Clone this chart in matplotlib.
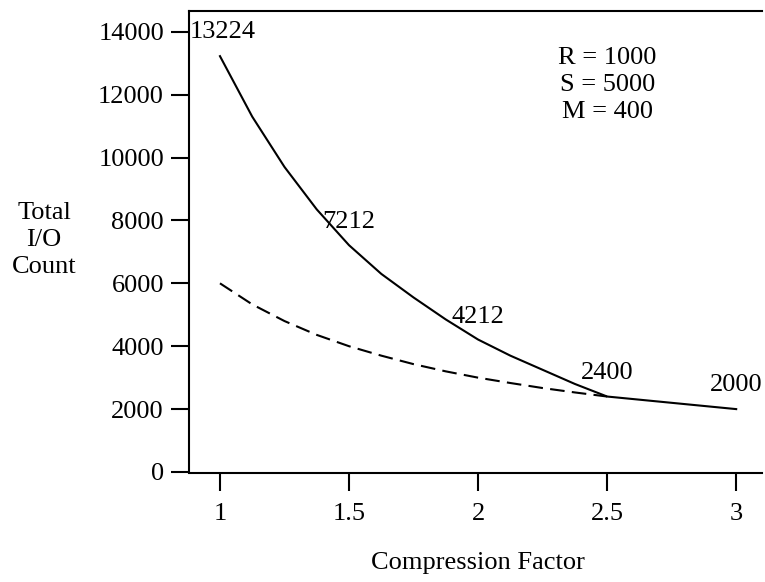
import matplotlib
matplotlib.use("Agg")
import matplotlib.pyplot as plt

# values
comp = [1.0, 1.125, 1.25, 1.375, 1.5, 1.625, 1.75, 1.875, 2.0,
        2.125, 2.25, 2.375, 2.5, 3.0]
io_solid = [13224, 11300, 9700, 8350, 7212, 6300, 5550, 4850, 4212,
            3700, 3250, 2800, 2400, 2000]
comp_dash = [1.0, 1.125, 1.25, 1.375, 1.5, 1.625, 1.75, 1.875, 2.0,
             2.125, 2.25, 2.375, 2.5]
io_dash = [6000, 5330, 4800, 4360, 4000, 3700, 3430, 3200, 3000,
           2830, 2670, 2530, 2400]
xticks = [1, 1.5, 2, 2.5, 3]
yticks = [0, 2000, 4000, 6000, 8000, 10000, 12000, 14000]
point_labels = ["13224", "7212", "4212", "2400", "2000"]
params_text = "R = 1000\nS = 5000\nM = 400"

plt.rcParams["font.family"] = ["Liberation Serif", "DejaVu Serif"]
FS = 19

fig = plt.figure(figsize=(7.65, 5.82), dpi=100)
ax = fig.add_axes([189 / 765, 1 - 472 / 582, (762 - 189) / 765, (472 - 11) / 582])

ax.plot(comp, io_solid, color="black", lw=1.5)
dash, = ax.plot(comp_dash, io_dash, color="black", lw=1.5)
dash.set_dashes([7, 3.5])

ax.set_xlim(0.88, 3.1)
ax.set_ylim(0, 14660)
ax.set_xticks(xticks)
ax.set_xticklabels(["1", "1.5", "2", "2.5", "3"])
ax.set_yticks(yticks)
ax.tick_params(axis="both", direction="out", length=13, width=1.5,
               labelsize=FS, colors="black")
ax.tick_params(axis="x", pad=8)
ax.tick_params(axis="y", pad=5)
ax.spines["right"].set_visible(False)
for s in ("left", "top", "bottom"):
    ax.spines[s].set_linewidth(1.5)
ax.spines["bottom"].set_position(("outward", 1))

# point annotations
ax.text(0.884, 14000, point_labels[0], fontsize=FS, ha="left", va="center")
ax.text(1.5, 7950, point_labels[1], fontsize=FS, ha="center", va="center")
ax.text(2.0, 4930, point_labels[2], fontsize=FS, ha="center", va="center")
ax.text(2.5, 3150, point_labels[3], fontsize=FS, ha="center", va="center")
ax.text(3.0, 2770, point_labels[4], fontsize=FS, ha="center", va="center")

ax.text(2.5, 12300, params_text, fontsize=FS, ha="center", va="center",
        multialignment="center", linespacing=1.3)

fig.text(44 / 765, 1 - 240 / 582, "Total\nI/O\nCount", fontsize=FS,
         ha="center", va="center", multialignment="center", linespacing=1.3)
fig.text(478 / 765, 1 - 563 / 582, "Compression Factor", fontsize=FS,
         ha="center", va="center")

fig.savefig("out.png", dpi=100)
